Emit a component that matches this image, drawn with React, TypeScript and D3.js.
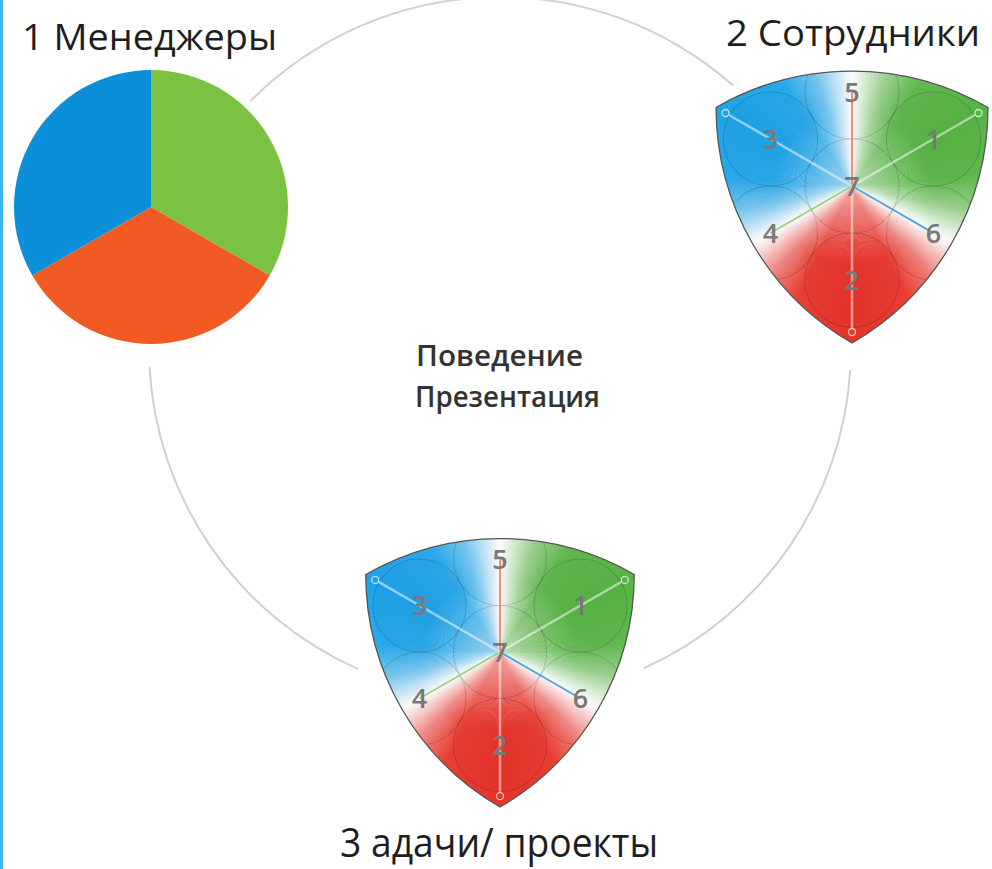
import { useMemo } from "react";
import * as d3 from "d3";

const WIDTH = 992;
const HEIGHT = 869;

// pie "1 Менеджеры"
const pieCategories = ["Зелёный", "Оранжевый", "Синий"];
const pieValues = [1, 1, 1];
const pieColors = ["#7cc242", "#f15a22", "#0a8fd8"];

// three colour zones of the triangles, clockwise from the top
const zoneValues = [1, 1, 1];
const zoneColors = ["#58b445", "#e8342a", "#1fa3e8"];
const lineColors = ["#8fd07a", "#f2806e", "#3d9fe0"];
const zoneLabels = ["5", "1", "6", "2", "4", "3"];
const centerLabel = "7";

const titles = ["1 Менеджеры", "2 Сотрудники", "3 адачи/ проекты"];
const centerLines = ["Поведение", "Презентация"];

// fade of each zone toward white at its borders: [share of zone, amount of colour]
const fadeStops = [
  [0, 0],
  [0.05, 0.18],
  [0.15, 0.6],
  [0.28, 0.95],
  [0.5, 1],
  [0.72, 0.95],
  [0.85, 0.6],
  [0.95, 0.18],
  [1, 0],
];

// layout
const PIE = { x: 151, y: 207, r: 137 };
const RING = { x: 500, y: 348, r: 351 };
const ringArcs = [
  [-45.3, 41.6],
  [93.6, 155.9],
  [203.8, 266.9],
];
const SHAPES = [
  { id: "s2", x: 852, y: 186, r: 157 },
  { id: "s3", x: 500, y: 652, r: 155 },
];
const FONT = "'Open Sans', 'DejaVu Sans', sans-serif";
const rad = (d: number) => (d * Math.PI) / 180;

function reuleaux(R: number) {
  const s = R * Math.sqrt(3);
  const v = [-30, 90, 210].map((d) => [R * Math.cos(rad(d)), R * Math.sin(rad(d))]);
  const p = d3.path();
  p.moveTo(v[2][0], v[2][1]);
  p.arc(v[1][0], v[1][1], s, -2 * Math.PI / 3, -Math.PI / 3);
  p.arc(v[2][0], v[2][1], s, 0, Math.PI / 3);
  p.arc(v[0][0], v[0][1], s, 2 * Math.PI / 3, Math.PI);
  p.closePath();
  return p.toString();
}

const Shape = ({ id, x, y, r }: { id: string; x: number; y: number; r: number }) => {
  const zones = useMemo(() => d3.pie<number>().sort(null)(zoneValues), []);

  const colorAt = useMemo(() => {
    const dom: number[] = [];
    const rng: string[] = [];
    zones.forEach((z, i) => {
      fadeStops.forEach(([f, k]) => {
        if (i > 0 && f === 0) return;
        dom.push(z.startAngle + f * (z.endAngle - z.startAngle));
        rng.push(d3.interpolateRgb("#ffffff", zoneColors[i])(k));
      });
    });
    return d3.scaleLinear<string>().domain(dom).range(rng).interpolate(d3.interpolateRgb);
  }, [zones]);

  const wedges = useMemo(() => {
    const step = (2 * Math.PI) / 360;
    const arc = d3.arc();
    return d3.range(360).map((i) => ({
      d: arc({
        innerRadius: 0,
        outerRadius: r * 1.3,
        startAngle: i * step - 0.004,
        endAngle: (i + 1) * step + 0.004,
      }) as string,
      fill: colorAt((i + 0.5) * step),
    }));
  }, [r, colorAt]);

  const outline = reuleaux(r);
  const cr = r * 0.3;
  const centers = [...zoneLabels.map((_, i) => d3.pointRadial((i * Math.PI) / 3, r * 0.6)), [0, 0]];

  return (
    <g transform={`translate(${x},${y})`}>
      <defs>
        <clipPath id={`clip-${id}`}>
          <path d={outline} />
        </clipPath>
        <radialGradient id={`glow-${id}`} cx="0" cy="0" r={r * 0.5} gradientUnits="userSpaceOnUse">
          <stop offset="0" stopColor="#fff" stopOpacity={0.45} />
          <stop offset="1" stopColor="#fff" stopOpacity={0} />
        </radialGradient>
      </defs>
      <g clipPath={`url(#clip-${id})`}>
        {wedges.map((w, i) => (
          <path key={i} d={w.d} fill={w.fill} />
        ))}
        <circle r={r * 0.5} fill={`url(#glow-${id})`} />
        {centers.map(([px, py], i) => (
          <circle
            key={i}
            cx={px}
            cy={py}
            r={cr}
            fill="#000"
            fillOpacity={0.015}
            stroke="#000"
            strokeOpacity={0.14}
            strokeWidth={1.1}
          />
        ))}
        {zones.map((z, i) => {
          const a = (z.startAngle + z.endAngle) / 2;
          const [vx, vy] = d3.pointRadial(a, r * 0.93);
          const [ex, ey] = d3.pointRadial(a + Math.PI, r * 0.6);
          return (
            <g key={i}>
              <line x1={vx} y1={vy} x2={0} y2={0} stroke="#fff" strokeOpacity={0.5} strokeWidth={2.5} />
              <line x1={0} y1={0} x2={ex} y2={ey} stroke={lineColors[i]} strokeOpacity={0.9} strokeWidth={2} />
              <circle cx={vx} cy={vy} r={3.5} fill={zoneColors[i]} stroke="#fff" strokeOpacity={0.7} strokeWidth={1.3} />
            </g>
          );
        })}
      </g>
      <path d={outline} fill="none" stroke="#555" strokeWidth={1.3} />
      {zoneLabels.map((t, i) => {
        const [px, py] = d3.pointRadial((i * Math.PI) / 3, r * 0.6);
        return (
          <text key={t} x={px} y={py} dy="0.36em" textAnchor="middle" fontFamily={FONT} fontWeight={600} fontSize={27} fill="#787878">
            {t}
          </text>
        );
      })}
      <text x={0} y={0} dy="0.36em" textAnchor="middle" fontFamily={FONT} fontWeight={600} fontSize={27} fill="#787878">
        {centerLabel}
      </text>
    </g>
  );
};

export default function App() {
  const slices = useMemo(() => {
    const pie = d3.pie<number>().sort(null)(pieValues);
    const arc = d3.arc<d3.PieArcDatum<number>>().innerRadius(0).outerRadius(PIE.r);
    return pie.map((p, i) => ({ d: arc(p) as string, fill: pieColors[i], name: pieCategories[i] }));
  }, []);

  const ring = useMemo(() => {
    const arc = d3.arc();
    return ringArcs.map(([a0, a1]) =>
      arc({ innerRadius: RING.r - 1, outerRadius: RING.r + 1, startAngle: rad(a0), endAngle: rad(a1) }) as string
    );
  }, []);

  return (
    <svg
      width={WIDTH}
      height={HEIGHT}
      style={{ position: "fixed", left: 0, top: 0, background: "#fff" }}
    >
      <rect x={0} y={0} width={WIDTH} height={HEIGHT} fill="#fff" />
      <rect x={0} y={0} width={3} height={HEIGHT} fill="#3cb4f0" />

      <g transform={`translate(${RING.x},${RING.y})`}>
        {ring.map((d, i) => (
          <path key={i} d={d} fill="#d0d0d0" />
        ))}
      </g>

      <g transform={`translate(${PIE.x},${PIE.y})`}>
        {slices.map((s) => (
          <path key={s.name} d={s.d} fill={s.fill} />
        ))}
      </g>

      {SHAPES.map((s) => (
        <Shape key={s.id} {...s} />
      ))}

      <g fontFamily={FONT} fill="#1e1e1e" fontWeight={500}>
        <text x={22} y={50} fontSize={37} textLength={255} lengthAdjust="spacingAndGlyphs">
          {titles[0]}
        </text>
        <text x={726} y={46} fontSize={36} textLength={254} lengthAdjust="spacingAndGlyphs">
          {titles[1]}
        </text>
        <text x={340} y={857} fontSize={41} textLength={318} lengthAdjust="spacingAndGlyphs">
          {titles[2]}
        </text>
      </g>

      <g fontFamily={FONT} fill="#333" fontSize={29} fontWeight={600}>
        <text x={416} y={366} textLength={167} lengthAdjust="spacingAndGlyphs">
          {centerLines[0]}
        </text>
        <text x={415} y={407} textLength={185} lengthAdjust="spacingAndGlyphs">
          {centerLines[1]}
        </text>
      </g>
    </svg>
  );
}
